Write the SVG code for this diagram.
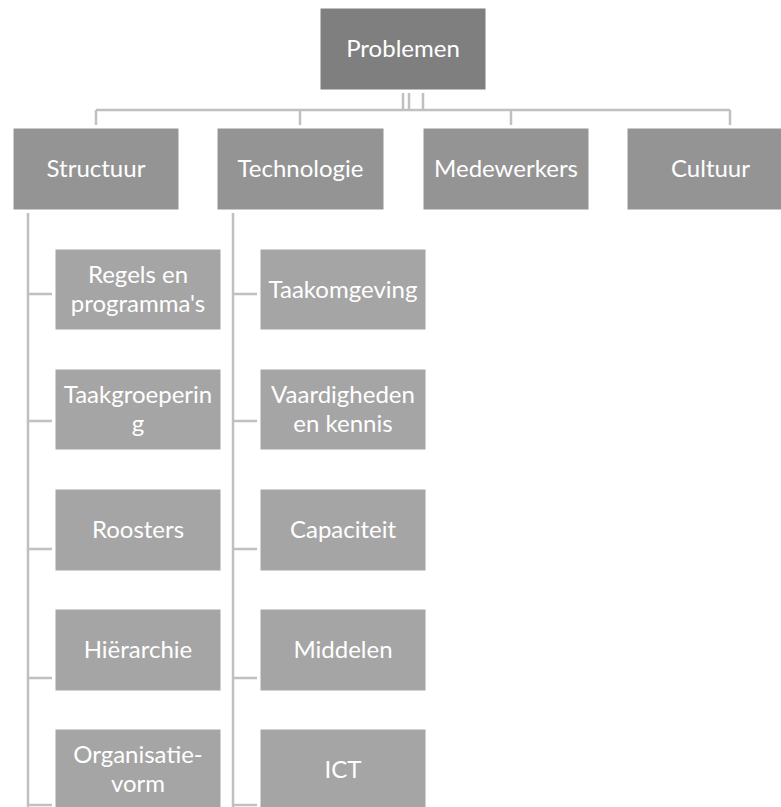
<svg xmlns="http://www.w3.org/2000/svg" width="781" height="807" viewBox="0 0 781 807">
  <style>
    .root { fill: #7f7f7f; }
    .l1 { fill: #949494; }
    .l2 { fill: #a5a5a5; }
    .box { stroke: #ffffff; stroke-width: 1; }
    text { font-family: Lato, "Open Sans", "Liberation Sans", sans-serif; font-size: 24px; fill: #ffffff; text-anchor: middle; }
    .conn { fill: none; stroke: #c0c0c0; stroke-width: 2.5; }
  </style>

  <rect width="781" height="807" fill="#ffffff"/>

  <!-- connectors -->
  <g id="connectors" class="conn">
    <!-- root to level one -->
    <path d="M403 93V110M409 93V110M423 93V110"/>
    <path d="M96 110H730"/>
    <path d="M96 110V125M300 110V125M511 110V125M730 110V125"/>
    <!-- Structuur trunk and branches -->
    <path d="M28 213V807"/>
    <path d="M28 294H52M28 421H52M28 549H52M28 678H52M28 805H52"/>
    <!-- Technologie trunk and branches -->
    <path d="M233 213V807"/>
    <path d="M233 294H257M233 421H257M233 549H257M233 678H257M233 805H257"/>
  </g>

  <!-- root -->
  <g id="problemen">
    <rect class="root box" x="320" y="8" width="166" height="82"/>
    <text x="403" y="57">Problemen</text>
  </g>

  <!-- level one -->
  <g id="structuur">
    <rect class="l1 box" x="13" y="128" width="166" height="82"/>
    <text x="96" y="177">Structuur</text>
  </g>
  <g id="technologie">
    <rect class="l1 box" x="217" y="128" width="167" height="82"/>
    <text x="300.5" y="177">Technologie</text>
  </g>
  <g id="medewerkers">
    <rect class="l1 box" x="423" y="128" width="166" height="82"/>
    <text x="506" y="177">Medewerkers</text>
  </g>
  <g id="cultuur">
    <rect class="l1 box" x="627" y="128" width="167" height="82"/>
    <text x="710.5" y="177">Cultuur</text>
  </g>

  <!-- Structuur children -->
  <g id="regels">
    <rect class="l2 box" x="55" y="249" width="166" height="81"/>
    <text x="138" y="283">Regels en</text>
    <text x="138" y="312">programma's</text>
  </g>
  <g id="taakgroepering">
    <rect class="l2 box" x="55" y="369" width="166" height="81"/>
    <text x="138" y="403">Taakgroeperin</text>
    <text x="138" y="432">g</text>
  </g>
  <g id="roosters">
    <rect class="l2 box" x="55" y="489" width="166" height="82"/>
    <text x="138" y="538">Roosters</text>
  </g>
  <g id="hierarchie">
    <rect class="l2 box" x="55" y="609" width="166" height="82"/>
    <text x="138" y="658">Hiërarchie</text>
  </g>
  <g id="organisatievorm">
    <rect class="l2 box" x="55" y="729" width="166" height="82"/>
    <text x="138" y="763">Organisatie-</text>
    <text x="138" y="792">vorm</text>
  </g>

  <!-- Technologie children -->
  <g id="taakomgeving">
    <rect class="l2 box" x="260" y="249" width="166" height="81"/>
    <text x="343" y="298">Taakomgeving</text>
  </g>
  <g id="vaardigheden">
    <rect class="l2 box" x="260" y="369" width="166" height="81"/>
    <text x="343" y="403">Vaardigheden</text>
    <text x="343" y="432">en kennis</text>
  </g>
  <g id="capaciteit">
    <rect class="l2 box" x="260" y="489" width="166" height="82"/>
    <text x="343" y="538">Capaciteit</text>
  </g>
  <g id="middelen">
    <rect class="l2 box" x="260" y="609" width="166" height="82"/>
    <text x="343" y="658">Middelen</text>
  </g>
  <g id="ict">
    <rect class="l2 box" x="260" y="729" width="166" height="82"/>
    <text x="343" y="778">ICT</text>
  </g>
</svg>
